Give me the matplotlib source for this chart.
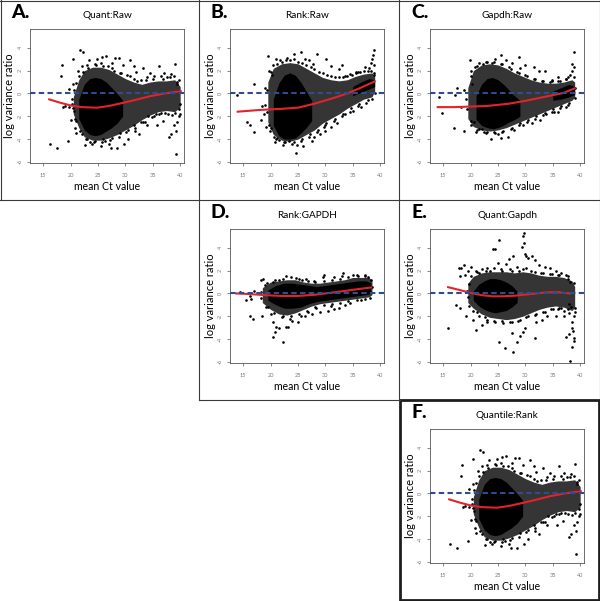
import numpy as np
import matplotlib
matplotlib.use("Agg")
import matplotlib.pyplot as plt
from matplotlib.lines import Line2D
from matplotlib.patches import Rectangle

plt.rcParams['font.family'] = ['Lato', 'DejaVu Sans']

# ---- data (x = mean Ct value, y = log variance ratio) ----
# dense point clouds are given as envelopes (medium / dense core) plus scattered points

# A. Quant:Raw
a_cloud_x = [20.5, 21.5, 22.5, 24, 25.5, 27, 28.5, 30, 31.5, 33, 34.5, 36, 37.5, 39, 40]
a_cloud_hi = [-0.3, 1.2, 2.0, 2.3, 2.3, 2.1, 1.7, 1.3, 1.0, 0.8, 1.0, 1.1, 1.1, 1.2, 0.6]
a_cloud_lo = [-1.8, -3.0, -3.8, -4.1, -4.1, -3.9, -3.6, -3.2, -2.8, -2.3, -1.9, -1.6, -1.5, -1.6, -1.2]
a_core_x = [21.5, 22.5, 23.5, 24.5, 25.5, 26.5, 27.5, 28.5, 29.5]
a_core_hi = [-0.5, 0.8, 1.3, 1.4, 1.3, 1.0, 0.5, 0.0, -0.6]
a_core_lo = [-2.2, -3.2, -3.6, -3.7, -3.6, -3.3, -3.0, -2.6, -2.0]
a_points = [
    (16.2, -4.4), (17.5, -4.8), (18.4, 2.5), (18.3, 1.5), (19.6, -4.2), (20.4, 3.0), (21.8, 3.8), (22.2, 3.6),
    (20.0, -2.3), (19.8, -1.2), (19.0, -1.1), (18.6, -1.2), (22.7, -4.5), (24.0, -4.4), (25.8, 3.2), (26.5, 3.3),
    (28.2, 3.1), (28.8, 3.1), (30.8, 2.9), (28.5, -4.8), (27.3, -4.8), (25.5, -4.6), (30.5, -4.0), (31.8, -3.3),
    (33.5, -2.5), (35.2, -2.0), (38.4, -3.6), (38.0, -3.8), (39.3, -3.3), (39.5, -2.5), (39.7, -2.0), (39.2, -5.3),
    (39.0, 2.6), (38.3, 1.7), (36.1, 2.4), (33.3, 2.2), (34.5, 1.8), (32.0, 1.9), (37.0, 1.8), (39.8, 1.2),
    (39.9, -1.8), (35.8, -2.8), (29.8, -4.4), (26.2, -4.2), (23.5, -4.3), (24.8, 3.0), (23.3, 2.9), (27.5, 2.7),
    (29.5, 2.5), (31.5, 2.4), (21.0, -3.5), (20.8, -3.0), (21.3, 2.0), (19.7, 0.4), (20.2, -0.5), (34.0, -2.8),
    (36.8, -2.4), (38.8, -2.8), (32.5, -3.6), (27.0, -4.4),
    (21.5, 1.5), (22.0, 2.4), (23.0, 2.5), (24.5, 2.6), (25.5, 2.7), (26.8, 2.4), (28.0, 2.0), (29.0, 1.8),
    (30.3, 1.6), (31.5, 1.3), (32.8, 1.2), (34.0, 1.4), (35.3, 1.5), (36.5, 1.5), (37.6, 1.4), (38.8, 1.5),
    (39.5, 0.8), (21.0, -2.4), (22.0, -3.6), (23.0, -4.0), (24.5, -4.2), (26.0, -4.0), (27.5, -3.9), (29.0, -3.5),
    (30.5, -3.2), (31.5, -2.8), (32.8, -2.5), (34.2, -2.0), (35.5, -1.8), (36.5, -1.7), (37.8, -1.8), (39.0, -1.7),
    (20.5, 0.8), (20.7, -1.5), (39.9, -0.9), (39.6, 0.2),
]
a_fringe = [
    (21.0, 0.9), (22.2, 1.9), (23.2, 2.2), (24.6, 2.5), (26.0, 2.4), (27.5, 2.2), (29.2, 1.8), (30.8, 1.5),
    (32.2, 1.1), (33.8, 1.2), (35.0, 1.3), (36.8, 1.3), (38.2, 1.4), (39.4, 1.0), (20.8, -2.2), (21.7, -3.3),
    (22.8, -4.0), (24.2, -4.3), (25.8, -4.3), (27.2, -4.1), (28.8, -3.8), (30.2, -3.4), (31.8, -3.0), (33.2, -2.5),
    (34.8, -2.1), (36.2, -1.8), (37.2, -1.7), (38.5, -1.9), (39.7, -1.4), (20.3, -0.9), (20.4, -1.3), (20.6, 0.3),
]
a_fit_x = [16.1, 18, 20, 22, 24.8, 27, 29.7, 32, 34.6, 37, 40.1]
a_fit_y = [-0.52, -0.8, -1.05, -1.2, -1.25, -1.1, -0.81, -0.55, -0.23, -0.02, 0.2]

# B. Rank:Raw
b_cloud_x = [19.5, 20.5, 22, 23.5, 25, 26.5, 28, 29.5, 31, 32.5, 34, 35.5, 37, 38.5, 39]
b_cloud_hi = [1.0, 2.2, 2.6, 2.7, 2.6, 2.2, 1.8, 1.4, 1.2, 1.1, 1.2, 1.5, 1.7, 1.8, 1.5]
b_cloud_lo = [-2.5, -3.6, -4.1, -4.2, -4.0, -3.6, -3.2, -2.6, -2.2, -1.8, -1.3, -0.9, -0.5, -0.3, 0.2]
b_core_x = [20.5, 21.5, 22.5, 23.5, 24.5, 25.5, 26.5, 27.5]
b_core_hi = [-0.5, 0.9, 1.6, 1.8, 1.6, 1.0, 0.2, -0.6]
b_core_lo = [-2.8, -3.7, -4.0, -4.0, -3.9, -3.5, -3.0, -2.4]
b_core2_x = [35, 36.5, 38, 39]
b_core2_hi = [0.6, 1.0, 1.3, 1.2]
b_core2_lo = [-0.2, 0.1, 0.4, 0.6]
b_points = [
    (13.9, -0.15), (15.7, -2.5), (17.0, 0.85), (16.3, -2.8), (16.9, -3.4), (18.2, -2.3), (19.2, -2.9), (19.6, 3.25),
    (21.0, 3.0), (20.9, -4.3), (22.3, -4.5), (23.4, -4.2), (24.7, -5.2), (25.5, 3.6), (24.2, 3.5), (28.4, 3.5),
    (27.0, 2.9), (30.2, 3.0), (31.0, 2.4), (32.5, 2.1), (29.0, -3.6), (31.0, -2.9), (32.2, -2.6), (33.5, -1.8),
    (35.0, -1.5), (36.5, -1.2), (38.8, 3.8), (38.7, 3.4), (38.6, 3.0), (38.8, 2.5), (38.4, 2.7), (38.0, 2.2),
    (37.3, 2.3), (36.0, 1.9), (34.5, 1.7), (33.5, 1.5), (27.5, -4.2), (26.0, -4.6), (24.8, -4.5), (29.8, -2.9),
    (20.0, -3.0), (19.8, 2.0), (20.3, 1.6), (19.0, -1.0), (18.5, -1.1), (21.8, 2.9), (23.0, 3.1), (26.2, 3.0),
    (27.8, 2.6), (33.0, 2.5), (35.5, 1.9), (30.0, -3.3), (28.0, -3.8), (21.5, -4.1), (20.7, -3.8),
    (20.5, 2.5), (22.0, 2.8), (23.5, 2.9), (25.0, 2.8), (26.5, 2.5), (28.0, 2.1), (29.5, 1.8), (31.0, 1.5),
    (32.5, 1.4), (34.0, 1.5), (35.5, 1.8), (37.0, 2.0), (38.3, 2.0), (38.9, 1.8), (19.8, -2.8), (21.2, -3.9),
    (22.5, -4.3), (24.0, -4.4), (25.5, -4.2), (27.0, -3.8), (28.5, -3.4), (30.0, -2.8), (31.5, -2.4), (33.0, -2.0),
    (34.5, -1.6), (36.0, -1.1), (37.5, -0.8), (38.6, -0.5), (19.0, 0.5), (18.8, -1.8), (39.0, 0.0),
]
b_fringe = [
    (20.0, 1.9), (21.2, 2.6), (22.8, 2.9), (24.3, 3.0), (25.8, 2.7), (27.3, 2.3), (28.8, 1.9), (30.3, 1.6),
    (31.8, 1.4), (33.3, 1.4), (34.8, 1.6), (36.3, 1.9), (37.8, 2.0), (38.8, 1.6), (19.9, -3.3), (21.0, -4.0),
    (22.7, -4.3), (24.2, -4.3), (25.7, -4.0), (27.2, -3.6), (28.7, -3.2), (30.2, -2.6), (31.7, -2.2), (33.2, -1.8),
    (34.7, -1.3), (36.2, -0.9), (37.7, -0.6), (19.3, -1.6), (19.4, 0.3),
]
b_fit_x = [14, 18, 22, 25, 28, 31.5, 34, 36, 39]
b_fit_y = [-1.6, -1.45, -1.35, -1.25, -0.9, -0.4, 0.0, 0.4, 1.05]

# C. Gapdh:Raw
c_cloud_x = [19.5, 20.5, 22, 23.5, 25, 26.5, 28, 29.5, 31, 32.5, 34, 35.5, 37, 38.5, 39]
c_cloud_hi = [0.5, 2.0, 2.5, 2.6, 2.5, 2.2, 1.8, 1.5, 1.2, 1.0, 0.9, 0.9, 1.0, 1.2, 1.0]
c_cloud_lo = [-2.2, -2.9, -3.2, -3.3, -3.2, -3.0, -2.7, -2.4, -2.1, -1.8, -1.5, -1.2, -0.9, -0.6, -0.3]
c_core_x = [21, 22, 23, 24, 25, 26, 27, 28, 29]
c_core_hi = [-0.2, 0.8, 1.3, 1.4, 1.2, 0.8, 0.3, -0.2, -0.6]
c_core_lo = [-2.3, -2.8, -3.0, -3.1, -3.0, -2.8, -2.5, -2.3, -2.0]
c_core2_x = [35, 36.5, 38, 39]
c_core2_hi = [0.2, 0.5, 0.8, 0.6]
c_core2_lo = [-0.6, -0.5, -0.3, -0.1]
c_points = [
    (14.3, -0.3), (14.8, -1.75), (17.0, -3.0), (17.5, 0.5), (17.2, -0.1), (18.8, -3.3), (18.3, -1.2), (19.9, 2.9),
    (20.0, 2.0), (20.2, 0.8), (20.6, -2.5), (21.0, -3.4), (22.5, -3.4), (23.8, -4.0), (25.0, -3.6), (25.5, -3.9),
    (26.8, -3.8), (25.5, 3.4), (24.5, 3.0), (28.8, 3.2), (27.5, 2.7), (30.0, 2.5), (31.5, 2.3), (32.5, 2.0),
    (33.5, 2.0), (29.5, -2.8), (31.2, -2.6), (32.6, -2.3), (33.8, -1.8), (35.2, -1.6), (36.0, -1.6), (37.5, -1.2),
    (38.8, 3.6), (38.6, 2.6), (38.8, 2.3), (38.5, 2.0), (38.2, 1.6), (37.4, 1.3), (36.0, 1.4), (34.8, 1.2),
    (21.5, 2.7), (23.0, 2.8), (26.5, 2.9), (28.0, -3.2), (22.0, -3.1), (29.0, 2.2),
    (20.8, 2.3), (22.3, 2.6), (24.0, 2.7), (25.5, 2.6), (27.0, 2.3), (28.5, 1.9), (30.0, 1.6), (31.5, 1.3),
    (33.0, 1.1), (34.5, 1.0), (36.0, 1.1), (37.5, 1.3), (38.8, 1.4), (20.0, -2.4), (21.5, -3.1), (23.0, -3.4),
    (24.5, -3.5), (26.0, -3.3), (27.5, -3.0), (29.0, -2.6), (30.5, -2.3), (32.0, -2.0), (33.5, -1.7), (35.0, -1.4),
    (36.5, -1.1), (38.0, -0.8), (39.0, -0.4), (19.2, -0.5), (18.8, 0.3), (39.1, 0.5),
]
c_fringe = [
    (20.0, 1.5), (21.2, 2.4), (22.8, 2.8), (24.3, 2.8), (25.8, 2.6), (27.3, 2.1), (28.8, 1.8), (30.3, 1.5),
    (31.8, 1.3), (33.3, 1.1), (34.8, 1.1), (36.3, 1.1), (37.8, 1.4), (20.0, -2.8), (21.2, -3.2), (22.8, -3.5),
    (24.2, -3.4), (25.8, -3.4), (27.3, -3.1), (28.8, -2.8), (30.3, -2.5), (31.8, -2.2), (33.3, -1.9), (34.8, -1.6),
    (36.3, -1.3), (37.8, -1.0), (19.3, -1.4),
]
c_fit_x = [14, 17, 20, 23, 25, 27, 30, 33, 35, 37, 39]
c_fit_y = [-1.2, -1.2, -1.15, -1.1, -1.0, -0.9, -0.65, -0.35, -0.15, 0.05, 0.45]

# D. Rank:GAPDH
d_cloud_x = [18.5, 20, 21.5, 23, 24.5, 26, 27.5, 29, 30.5, 32, 33.5, 35, 36.5, 38, 38.5]
d_cloud_hi = [0.5, 1.0, 1.1, 1.2, 1.2, 1.0, 0.9, 0.9, 1.0, 1.1, 1.2, 1.4, 1.4, 1.4, 1.1]
d_cloud_lo = [-0.8, -1.4, -1.8, -1.9, -1.7, -1.4, -1.1, -0.9, -0.8, -0.7, -0.6, -0.5, -0.4, -0.3, -0.1]
d_core_x = [19.5, 21, 22.5, 24, 25.5, 27, 28.5, 30, 31.5, 33, 34.5, 36, 37.5, 38.3]
d_core_hi = [0.3, 0.7, 0.9, 0.9, 0.8, 0.7, 0.6, 0.7, 0.8, 0.9, 1.0, 1.1, 1.1, 0.9]
d_core_lo = [-0.6, -1.0, -1.3, -1.3, -1.2, -0.9, -0.7, -0.6, -0.5, -0.4, -0.3, -0.2, -0.1, 0.0]
d_points = [
    (14.5, 0.1), (15.5, -0.6), (16.5, -0.5), (16.2, -0.2), (17.0, 0.2), (16.3, -2.0), (16.8, -2.2), (18.5, -2.0),
    (18.3, 1.2), (18.6, 1.3), (20.0, -1.8), (20.5, -2.5), (21.0, -2.9), (20.4, -3.8), (20.8, -3.4), (21.5, -3.0),
    (22.3, -4.3), (22.8, -2.9), (23.2, -2.9), (24.0, -2.4), (25.0, -2.5), (25.5, -2.0), (26.2, -2.0), (27.5, -1.8),
    (29.0, -1.6), (30.5, -1.5), (31.5, -1.4), (32.5, -1.3), (33.5, -1.0), (24.7, 1.35), (22.8, 1.5), (26.5, 1.3),
    (29.5, 1.4), (29.8, 1.6), (33.0, 1.5), (33.2, 1.8), (31.5, 1.4), (35.0, 1.6), (36.0, 1.5), (37.2, 1.6),
    (37.8, 1.4), (21.5, 1.2), (20.5, 1.0),
    (19.0, 0.7), (19.5, -1.2), (22.0, -2.1), (23.5, -2.2), (26.8, -1.6), (28.3, -1.3), (31.0, -1.1), (34.5, -0.8),
    (36.5, -0.6), (38.2, -0.4), (38.5, 0.6), (25.8, 1.2), (28.0, 1.1),
]
d_fringe = [
    (19.3, 0.9), (20.8, 1.2), (22.2, 1.3), (23.7, 1.4), (25.2, 1.3), (26.8, 1.1), (28.2, 1.0), (29.7, 1.1),
    (31.2, 1.2), (32.7, 1.3), (34.2, 1.4), (35.7, 1.6), (37.2, 1.5), (38.3, 1.2), (19.2, -1.2), (20.7, -1.7),
    (22.2, -2.0), (23.7, -2.0), (25.2, -1.8), (26.7, -1.5), (28.2, -1.2), (29.7, -1.0), (31.2, -0.9), (32.7, -0.8),
    (34.2, -0.7), (35.7, -0.6), (37.2, -0.5), (18.3, 0.1), (18.2, -0.4),
]
d_fit_x = [13.7, 16, 19, 22, 25, 28, 30, 32, 34, 36, 38.3]
d_fit_y = [0.0, -0.05, -0.15, -0.22, -0.22, -0.12, 0.0, 0.12, 0.25, 0.38, 0.52]

# E. Quant:Gapdh
e_cloud_x = [19.5, 20.5, 22, 23.5, 25, 26.5, 28, 29.5, 31, 32.5, 34, 35.5, 37, 38.5, 39]
e_cloud_hi = [0.9, 1.5, 1.8, 1.9, 1.9, 1.9, 1.8, 1.9, 1.8, 1.6, 1.5, 1.5, 1.4, 1.1, 0.6]
e_cloud_lo = [-0.8, -1.3, -1.8, -2.1, -2.2, -2.3, -2.2, -2.0, -1.7, -1.4, -1.2, -1.1, -1.2, -1.5, -1.2]
e_core_x = [20.5, 21.5, 22.5, 23.5, 24.5, 25.5, 26.5, 27.5, 28.5]
e_core_hi = [0.2, 0.8, 1.1, 1.3, 1.3, 1.2, 1.0, 0.7, 0.2]
e_core_lo = [-0.6, -1.1, -1.4, -1.6, -1.7, -1.6, -1.5, -1.2, -0.8]
e_points = [
    (15.9, -3.0), (17.3, -1.0), (18.0, -1.3), (17.9, 2.2), (18.0, 1.5), (19.0, 1.6), (18.2, 2.2), (18.8, 2.5),
    (19.5, 2.0), (20.0, 2.3), (19.2, -2.0), (20.5, -2.3), (21.0, -3.2), (22.0, -2.8), (23.0, -2.5), (25.1, -4.3),
    (26.3, -4.8), (27.7, -5.1), (28.4, -4.3), (27.5, -3.5), (29.0, -3.7), (29.5, -3.4), (30.0, -3.0), (31.7, -3.9),
    (32.0, -2.5), (33.0, -2.3), (34.0, -2.0), (35.5, -2.0), (37.0, -2.0), (37.5, -3.8), (38.0, -3.6), (38.5, -3.0),
    (38.7, -3.3), (38.6, -4.7), (38.9, -4.2), (38.9, -3.9), (38.2, -5.9), (38.6, -2.5), (38.9, -2.0), (39.0, -1.6),
    (38.4, -1.2), (38.0, -0.9), (25.2, 4.7), (24.1, 3.9), (24.5, 3.9), (29.7, 5.3), (29.6, 5.0), (29.7, 4.4),
    (29.4, 4.1), (27.7, 3.3), (30.2, 3.3), (30.5, 3.1), (31.3, 3.3), (30.0, 3.5), (31.8, 2.9), (32.5, 2.5),
    (33.5, 2.3), (34.5, 2.2), (35.5, 2.0), (36.5, 1.8), (27.0, 3.0), (26.5, 2.6), (25.0, 2.7), (23.0, 2.2),
    (22.0, 2.1), (21.0, 2.0), (28.5, 2.3), (37.5, 1.6), (38.2, 1.0), (37.0, -1.5), (36.0, -1.4), (19.8, 0.8),
    (19.5, -0.3),
    (20.5, -1.5), (21.5, -2.0), (23.0, -2.3), (24.5, -2.5), (26.0, -2.6), (27.5, -2.5), (29.0, -2.3), (30.5, -2.0),
    (32.0, -1.8), (33.5, -1.6), (35.0, -1.4), (36.5, -1.3), (38.0, -1.7), (21.5, 1.8), (23.5, 2.0), (25.5, 2.1),
    (27.5, 2.0), (29.5, 2.1), (31.0, 2.0), (32.8, 1.8), (34.5, 1.7), (36.0, 1.6), (37.8, 1.3),
]
e_fringe = [
    (20.0, 1.5), (21.2, 1.9), (22.8, 2.0), (24.2, 2.2), (25.8, 2.0), (27.2, 2.1), (28.8, 2.0), (30.2, 2.2),
    (31.8, 1.9), (33.2, 1.8), (34.8, 1.7), (36.2, 1.6), (37.8, 1.5), (38.8, 0.9), (19.8, -1.1), (21.2, -1.6),
    (22.7, -2.1), (24.2, -2.4), (25.7, -2.4), (27.2, -2.5), (28.7, -2.4), (30.2, -2.1), (31.7, -1.9), (33.2, -1.6),
    (34.7, -1.4), (36.2, -1.3), (37.7, -1.4), (39.0, -1.3), (19.3, 0.2),
]
e_fit_x = [15.9, 18, 20, 22, 24, 26, 28, 30, 32, 34, 36, 38.1]
e_fit_y = [0.55, 0.3, 0.05, -0.15, -0.25, -0.25, -0.2, -0.1, 0.0, 0.1, 0.1, 0.0]

# F. Quantile:Rank looks identical to A
f_cloud_x, f_cloud_lo, f_cloud_hi = a_cloud_x, a_cloud_lo, a_cloud_hi
f_core_x, f_core_lo, f_core_hi = a_core_x, a_core_lo, a_core_hi
f_points = a_points
f_fringe = a_fringe
f_fit_x, f_fit_y = a_fit_x, a_fit_y

x_ticks = [15, 20, 25, 30, 35, 40]
y_ticks = [4, 2, 0, -2, -4, -6]

W, H = 600, 601
fig = plt.figure(figsize=(W / 100, H / 100), dpi=100)
fig.patch.set_facecolor('white')


def fx(px):
    return px / W


def fy(py):
    return 1 - py / H


def panel(ox, oy, letter, title, cloud, cores, points, fit):
    ax = fig.add_axes([fx(ox + 30), fy(oy + 163), 154 / W, 134 / H])
    cx, clo, chi = cloud
    ax.fill_between(cx, clo, chi, color='#353535', lw=0, zorder=1)
    for kx, klo, khi in cores:
        ax.fill_between(kx, klo, khi, color='black', lw=0, zorder=2)
    p = np.array(points)
    ax.plot(p[:, 0], p[:, 1], 'o', color='black', ms=1.9, mew=0, zorder=3)
    ax.plot(fit[0], fit[1], color='#e3232b', lw=1.5, zorder=4)
    ax.axhline(0, color='#2e4d8f', lw=1.5, ls=(0, (2.6, 1.6)), zorder=5)
    ax.set_xlim(12.6, 40.7)
    ax.set_ylim(-6.1, 5.65)
    ax.set_xticks(x_ticks)
    ax.set_yticks(y_ticks)
    ax.set_yticklabels([str(t) for t in y_ticks], rotation=90, va='center')
    ax.tick_params(direction='out', length=2, width=0.5, colors='#555555',
                   labelsize=4, labelcolor='#777777')
    ax.tick_params(axis='x', pad=5)
    ax.tick_params(axis='y', pad=3)
    for s in ax.spines.values():
        s.set_color('#555555')
        s.set_linewidth(0.6)
    cx_mid = ox + 107
    fig.text(fx(cx_mid), fy(oy + 15), title, ha='center', va='center', fontsize=7.2)
    fig.text(fx(ox + 11), fy(oy + 13), letter, ha='left', va='center',
             fontsize=14, fontweight='black')
    fig.text(fx(cx_mid), fy(oy + 187), 'mean Ct value', ha='center', va='center', fontsize=7.6)
    fig.text(fx(ox + 10), fy(oy + 96), 'log variance ratio', ha='center', va='center',
             rotation=90, fontsize=8)
    return ax


panel(0, 0, 'A.', 'Quant:Raw', (a_cloud_x, a_cloud_lo, a_cloud_hi),
      [(a_core_x, a_core_lo, a_core_hi)], a_points + a_fringe, (a_fit_x, a_fit_y))
panel(200, 0, 'B.', 'Rank:Raw', (b_cloud_x, b_cloud_lo, b_cloud_hi),
      [(b_core_x, b_core_lo, b_core_hi), (b_core2_x, b_core2_lo, b_core2_hi)],
      b_points + b_fringe, (b_fit_x, b_fit_y))
panel(400, 0, 'C.', 'Gapdh:Raw', (c_cloud_x, c_cloud_lo, c_cloud_hi),
      [(c_core_x, c_core_lo, c_core_hi), (c_core2_x, c_core2_lo, c_core2_hi)],
      c_points + c_fringe, (c_fit_x, c_fit_y))
panel(200, 200, 'D.', 'Rank:GAPDH', (d_cloud_x, d_cloud_lo, d_cloud_hi),
      [(d_core_x, d_core_lo, d_core_hi)], d_points + d_fringe, (d_fit_x, d_fit_y))
panel(400, 200, 'E.', 'Quant:Gapdh', (e_cloud_x, e_cloud_lo, e_cloud_hi),
      [(e_core_x, e_core_lo, e_core_hi)], e_points + e_fringe, (e_fit_x, e_fit_y))
panel(400, 400, 'F.', 'Quantile:Rank', (f_cloud_x, f_cloud_lo, f_cloud_hi),
      [(f_core_x, f_core_lo, f_core_hi)], f_points + f_fringe, (f_fit_x, f_fit_y))

# panel frames
frame_lines = [
    ((0, 600), (0.5, 0.5)),
    ((0.5, 0.5), (0, 200.5)),
    ((0, 600), (200.5, 200.5)),
    ((199, 199), (0, 400)),
    ((399, 399), (0, 400)),
    ((599.5, 599.5), (0, 400)),
    ((199, 400), (400, 400)),
]
for xs, ys in frame_lines:
    fig.add_artist(Line2D([fx(v) for v in xs], [fy(v) for v in ys], color='#3a3a3a', lw=0.8))
fig.add_artist(Rectangle((fx(399.5), fy(599.5)), 199 / W, 199.5 / H, fill=False,
                         edgecolor='#1e1e1e', lw=2.0, transform=fig.transFigure))

fig.savefig('out.png', dpi=100)
